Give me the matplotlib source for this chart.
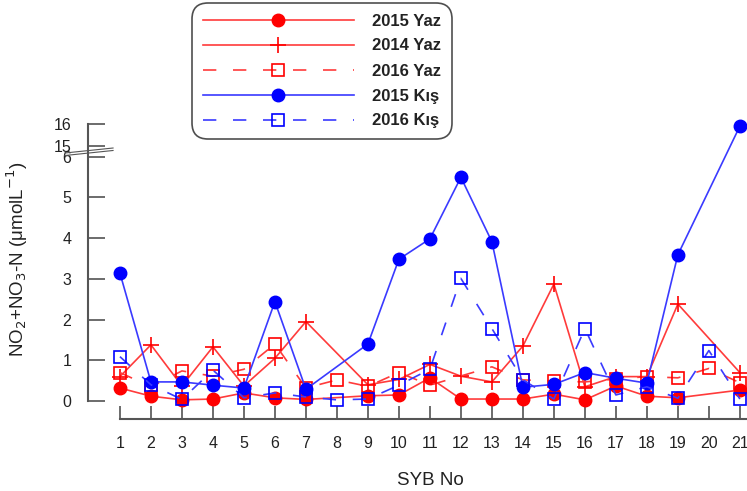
import numpy as np
import matplotlib
matplotlib.use('Agg')
import matplotlib.pyplot as plt

plt.rcParams['font.family'] = ['Liberation Sans', 'DejaVu Sans']

# station numbers
syb = np.arange(1, 22)

# NO2+NO3-N values (nan = no sample)
nan = np.nan
yaz_2015 = [0.32, 0.12, 0.03, 0.05, 0.2, 0.08, 0.04, nan, 0.13, 0.15, 0.57,
            0.05, 0.05, 0.05, 0.17, 0.03, 0.37, 0.12, 0.08, nan, 0.27]
yaz_2014 = [0.6, 1.38, 0.37, 1.33, 0.37, 1.05, 1.95, nan, 0.4, 0.53, 0.9,
            0.61, 0.47, 1.35, 2.87, 0.35, 0.6, 0.6, 2.38, nan, 0.7]
yaz_2016 = [0.7, 0.35, 0.74, 0.61, 0.78, 1.4, 0.32, 0.52, 0.36, 0.7, 0.39,
            nan, 0.84, 0.52, 0.49, 0.47, 0.54, 0.6, 0.57, 0.8, 0.45]
kis_2015 = [3.14, 0.47, 0.47, 0.39, 0.32, 2.44, 0.29, nan, 1.4, 3.48, 3.98,
            5.49, 3.91, 0.34, 0.41, 0.7, 0.56, 0.44, 3.59, nan, 15.9]
kis_2016 = [1.09, 0.4, 0.04, 0.76, 0.08, 0.2, 0.1, 0.03, 0.05, 0.39, 0.78,
            3.01, 1.78, 0.52, 0.05, 1.78, 0.15, 0.35, 0.07, 1.24, 0.05]

yticks = [0, 1, 2, 3, 4, 5, 6, 15, 16]
xticks = list(range(1, 22))


# broken y axis: 0-6 linear, 6-15 squeezed, 15-16 at about half scale
def fwd(y):
    y = np.asarray(y, dtype=float)
    return np.where(y <= 6, y,
                    np.where(y < 15, 6 + (y - 6) * 0.268 / 9,
                             6.268 + (y - 15) * 0.53))


def inv(t):
    t = np.asarray(t, dtype=float)
    return np.where(t <= 6, t,
                    np.where(t < 6.268, 6 + (t - 6) * 9 / 0.268,
                             15 + (t - 6.268) / 0.53))


RED_L, RED_M = '#ff3b3b', '#ff0000'
BLUE_L, BLUE_M = '#3a3aff', '#0000ff'
DASH = (8, 10)

series = [
    (yaz_2015, '2015 Yaz', dict(color=RED_L, marker='o', ms=9, mfc=RED_M, mec=RED_M)),
    (yaz_2014, '2014 Yaz', dict(color=RED_L, marker='+', ms=12, mec=RED_M, mew=1.2)),
    (yaz_2016, '2016 Yaz', dict(color=RED_L, marker='s', ms=9, mfc='none', mec=RED_M,
                                mew=1.2, dashes=DASH)),
    (kis_2015, '2015 Kış', dict(color=BLUE_L, marker='o', ms=9, mfc=BLUE_M, mec=BLUE_M)),
    (kis_2016, '2016 Kış', dict(color=BLUE_L, marker='s', ms=9, mfc='none', mec=BLUE_M,
                                mew=1.2, dashes=DASH)),
]

fig = plt.figure(figsize=(7.47, 4.91), dpi=100)
ax = fig.add_axes([88 / 747, 1 - 419 / 491, 1 - 88 / 747, 295 / 491])
ax.set_yscale('function', functions=(fwd, inv))

handles = []
for vals, name, kw in series:
    v = np.array(vals, dtype=float)
    ok = ~np.isnan(v)
    h, = ax.plot(syb[ok], v[ok], lw=1.2, clip_on=False, label=name, **kw)
    handles.append(h)

ax.set_xlim(-0.03, 21.23)
ax.set_ylim(-0.44, 16)
ax.set_xticks(xticks)
ax.set_yticks(yticks)

for s in ['top', 'right']:
    ax.spines[s].set_visible(False)
for s in ['left', 'bottom']:
    ax.spines[s].set_color('#555555')
    ax.spines[s].set_linewidth(1.5)
ax.spines['left'].set_bounds(0, 16)
ax.spines['bottom'].set_bounds(1, 21.23)

ax.tick_params(axis='y', direction='in', length=12.5, width=1.1, color='#444444',
               pad=12, labelsize=11.5, labelcolor='#222222')
ax.tick_params(axis='x', direction='in', length=9.5, width=1.1, color='#444444',
               pad=12, labelsize=11.5, labelcolor='#222222')

# break marks on the y axis
for y0, y1 in [(0.9017, 0.9186), (0.8932, 0.9102)]:
    ax.plot([-0.035, 0.038], [y0, y1], transform=ax.transAxes, color='#555555',
            lw=0.8, clip_on=False)

ax.set_xlabel('SYB No', fontsize=13.5, color='#222222')
ax.xaxis.set_label_coords(0.519, -0.18)
ax.set_ylabel('NO$_2$+NO$_3$-N (μmolL$^{-1}$)', fontsize=13.5, color='#222222')
ax.yaxis.set_label_coords(-0.088, 0.542)

leg = fig.legend(handles=handles, loc='upper left', bbox_to_anchor=(195 / 747, 1 - 6 / 491),
                 numpoints=1, handlelength=9.1, handletextpad=1.1, labelspacing=0.6,
                 fancybox=True, frameon=True, borderpad=0.45, borderaxespad=0,
                 prop={'weight': 'bold', 'size': 12})
leg.get_frame().set_edgecolor('#222222')
leg.get_frame().set_linewidth(1.2)
leg.get_frame().set_boxstyle('round', pad=0.2, rounding_size=1.0)
for t in leg.get_texts():
    t.set_color('#222222')

fig.savefig('out.png', dpi=100)
